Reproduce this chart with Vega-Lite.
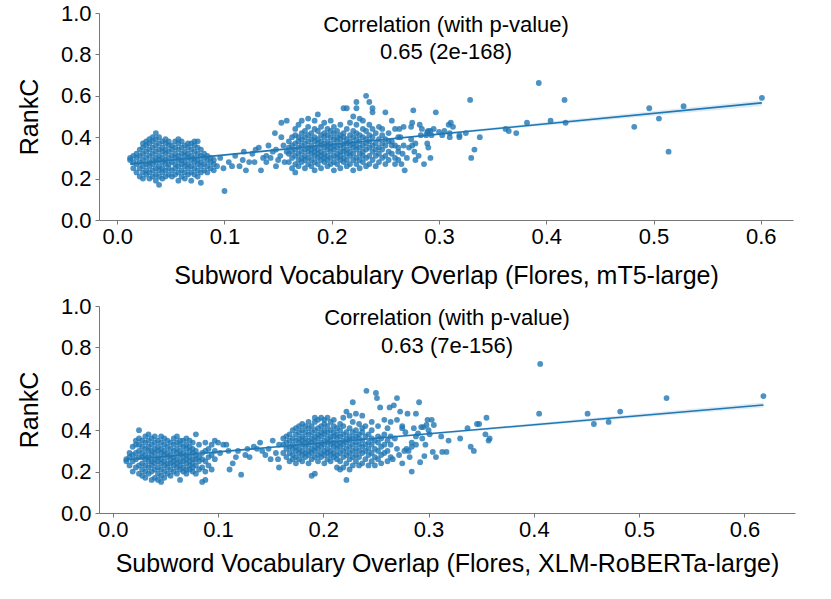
{
  "$schema": "https://vega.github.io/schema/vega-lite/v6.json",
  "background": "white",
  "padding": {"left": 17, "top": 2, "right": 5, "bottom": 5},
  "spacing": 7,
  "config": {
    "font": "Liberation Sans",
    "view": {"stroke": null},
    "axis": {
      "grid": false,
      "domainColor": "#777777",
      "tickColor": "#777777",
      "tickSize": 4,
      "labelFontSize": 22,
      "labelColor": "#000000",
      "titleFontSize": 25,
      "titleFontWeight": "normal",
      "titleColor": "#000000"
    },
    "axisX": {"labelPadding": 2},
    "axisY": {"labelPadding": 4}
  },
  "datasets": {
    "mt5": [
      {"x":0.012,"y":0.30},{"x":0.012,"y":0.29},
      {"x":0.015,"y":0.25},{"x":0.015,"y":0.28},{"x":0.015,"y":0.31},
      {"x":0.018,"y":0.23},{"x":0.018,"y":0.27},{"x":0.018,"y":0.30},{"x":0.018,"y":0.32},
      {"x":0.021,"y":0.21},{"x":0.021,"y":0.25},{"x":0.021,"y":0.28},{"x":0.021,"y":0.31},{"x":0.021,"y":0.34},
      {"x":0.024,"y":0.20},{"x":0.024,"y":0.23},{"x":0.024,"y":0.26},{"x":0.024,"y":0.29},{"x":0.024,"y":0.32},{"x":0.024,"y":0.35},{"x":0.024,"y":0.37},
      {"x":0.027,"y":0.22},{"x":0.027,"y":0.24},{"x":0.027,"y":0.27},{"x":0.027,"y":0.30},{"x":0.027,"y":0.33},{"x":0.027,"y":0.36},{"x":0.027,"y":0.38},
      {"x":0.030,"y":0.20},{"x":0.030,"y":0.23},{"x":0.030,"y":0.26},{"x":0.030,"y":0.28},{"x":0.030,"y":0.31},{"x":0.030,"y":0.34},{"x":0.030,"y":0.37},{"x":0.030,"y":0.39},
      {"x":0.033,"y":0.21},{"x":0.033,"y":0.24},{"x":0.033,"y":0.27},{"x":0.033,"y":0.29},{"x":0.033,"y":0.32},{"x":0.033,"y":0.35},{"x":0.033,"y":0.38},{"x":0.033,"y":0.40},
      {"x":0.036,"y":0.19},{"x":0.036,"y":0.22},{"x":0.036,"y":0.25},{"x":0.036,"y":0.28},{"x":0.036,"y":0.30},{"x":0.036,"y":0.33},{"x":0.036,"y":0.36},{"x":0.036,"y":0.39},{"x":0.036,"y":0.42},
      {"x":0.039,"y":0.17},{"x":0.039,"y":0.21},{"x":0.039,"y":0.24},{"x":0.039,"y":0.26},{"x":0.039,"y":0.29},{"x":0.039,"y":0.31},{"x":0.039,"y":0.34},{"x":0.039,"y":0.37},{"x":0.039,"y":0.40},
      {"x":0.042,"y":0.20},{"x":0.042,"y":0.23},{"x":0.042,"y":0.25},{"x":0.042,"y":0.28},{"x":0.042,"y":0.30},{"x":0.042,"y":0.33},{"x":0.042,"y":0.35},{"x":0.042,"y":0.38},
      {"x":0.045,"y":0.21},{"x":0.045,"y":0.24},{"x":0.045,"y":0.27},{"x":0.045,"y":0.29},{"x":0.045,"y":0.32},{"x":0.045,"y":0.34},{"x":0.045,"y":0.37},{"x":0.045,"y":0.39},
      {"x":0.048,"y":0.22},{"x":0.048,"y":0.25},{"x":0.048,"y":0.27},{"x":0.048,"y":0.30},{"x":0.048,"y":0.33},{"x":0.048,"y":0.36},{"x":0.048,"y":0.38},
      {"x":0.051,"y":0.21},{"x":0.051,"y":0.24},{"x":0.051,"y":0.28},{"x":0.051,"y":0.31},{"x":0.051,"y":0.34},{"x":0.051,"y":0.36},
      {"x":0.054,"y":0.22},{"x":0.054,"y":0.25},{"x":0.054,"y":0.27},{"x":0.054,"y":0.30},{"x":0.054,"y":0.32},{"x":0.054,"y":0.35},{"x":0.054,"y":0.38},
      {"x":0.057,"y":0.19},{"x":0.057,"y":0.23},{"x":0.057,"y":0.26},{"x":0.057,"y":0.29},{"x":0.057,"y":0.31},{"x":0.057,"y":0.34},{"x":0.057,"y":0.37},{"x":0.057,"y":0.39},
      {"x":0.060,"y":0.21},{"x":0.060,"y":0.24},{"x":0.060,"y":0.27},{"x":0.060,"y":0.29},{"x":0.060,"y":0.32},{"x":0.060,"y":0.35},{"x":0.060,"y":0.38},
      {"x":0.063,"y":0.20},{"x":0.063,"y":0.23},{"x":0.063,"y":0.26},{"x":0.063,"y":0.28},{"x":0.063,"y":0.31},{"x":0.063,"y":0.33},{"x":0.063,"y":0.36},
      {"x":0.066,"y":0.22},{"x":0.066,"y":0.25},{"x":0.066,"y":0.27},{"x":0.066,"y":0.30},{"x":0.066,"y":0.32},{"x":0.066,"y":0.35},{"x":0.066,"y":0.37},
      {"x":0.069,"y":0.19},{"x":0.069,"y":0.23},{"x":0.069,"y":0.26},{"x":0.069,"y":0.29},{"x":0.069,"y":0.31},{"x":0.069,"y":0.34},{"x":0.069,"y":0.37},
      {"x":0.072,"y":0.22},{"x":0.072,"y":0.25},{"x":0.072,"y":0.28},{"x":0.072,"y":0.30},{"x":0.072,"y":0.33},{"x":0.072,"y":0.36},{"x":0.072,"y":0.38},
      {"x":0.075,"y":0.21},{"x":0.075,"y":0.24},{"x":0.075,"y":0.27},{"x":0.075,"y":0.29},{"x":0.075,"y":0.32},{"x":0.075,"y":0.35},{"x":0.075,"y":0.38},
      {"x":0.078,"y":0.18},{"x":0.078,"y":0.23},{"x":0.078,"y":0.26},{"x":0.078,"y":0.28},{"x":0.078,"y":0.31},{"x":0.078,"y":0.34},
      {"x":0.081,"y":0.24},{"x":0.081,"y":0.27},{"x":0.081,"y":0.30},{"x":0.081,"y":0.32},
      {"x":0.084,"y":0.23},{"x":0.084,"y":0.26},{"x":0.084,"y":0.29},{"x":0.084,"y":0.31},
      {"x":0.087,"y":0.25},{"x":0.087,"y":0.28},{"x":0.087,"y":0.30},
      {"x":0.090,"y":0.24},{"x":0.090,"y":0.27},{"x":0.090,"y":0.29},
      {"x":0.093,"y":0.26},{"x":0.096,"y":0.30},{"x":0.099,"y":0.25},{"x":0.100,"y":0.14},{"x":0.104,"y":0.28},
      {"x":0.107,"y":0.26},{"x":0.110,"y":0.31},{"x":0.114,"y":0.26},{"x":0.117,"y":0.29},{"x":0.120,"y":0.24},
      {"x":0.123,"y":0.28},{"x":0.126,"y":0.32},{"x":0.128,"y":0.28},{"x":0.132,"y":0.35},{"x":0.134,"y":0.24},
      {"x":0.136,"y":0.30},{"x":0.139,"y":0.31},{"x":0.139,"y":0.28},{"x":0.143,"y":0.30},{"x":0.145,"y":0.33},
      {"x":0.148,"y":0.34},{"x":0.148,"y":0.26},{"x":0.150,"y":0.29},{"x":0.152,"y":0.31},{"x":0.153,"y":0.47},
      {"x":0.155,"y":0.36},{"x":0.156,"y":0.28},{"x":0.158,"y":0.48},{"x":0.158,"y":0.33},{"x":0.147,"y":0.42},
      {"x":0.153,"y":0.40},{"x":0.141,"y":0.36},{"x":0.129,"y":0.34},{"x":0.118,"y":0.33},
      {"x":0.160,"y":0.28},{"x":0.160,"y":0.32},{"x":0.160,"y":0.35},{"x":0.160,"y":0.38},
      {"x":0.163,"y":0.25},{"x":0.163,"y":0.30},{"x":0.163,"y":0.33},{"x":0.163,"y":0.36},{"x":0.163,"y":0.40},
      {"x":0.166,"y":0.23},{"x":0.166,"y":0.27},{"x":0.166,"y":0.31},{"x":0.166,"y":0.34},{"x":0.166,"y":0.37},{"x":0.166,"y":0.41},{"x":0.166,"y":0.44},
      {"x":0.169,"y":0.26},{"x":0.169,"y":0.29},{"x":0.169,"y":0.32},{"x":0.169,"y":0.35},{"x":0.169,"y":0.38},{"x":0.169,"y":0.40},{"x":0.169,"y":0.46},
      {"x":0.172,"y":0.28},{"x":0.172,"y":0.30},{"x":0.172,"y":0.33},{"x":0.172,"y":0.36},{"x":0.172,"y":0.39},{"x":0.172,"y":0.42},{"x":0.172,"y":0.48},
      {"x":0.175,"y":0.25},{"x":0.175,"y":0.29},{"x":0.175,"y":0.31},{"x":0.175,"y":0.34},{"x":0.175,"y":0.37},{"x":0.175,"y":0.40},{"x":0.175,"y":0.43},
      {"x":0.178,"y":0.27},{"x":0.178,"y":0.30},{"x":0.178,"y":0.33},{"x":0.178,"y":0.35},{"x":0.178,"y":0.38},{"x":0.178,"y":0.41},{"x":0.178,"y":0.45},{"x":0.178,"y":0.49},
      {"x":0.181,"y":0.26},{"x":0.181,"y":0.29},{"x":0.181,"y":0.32},{"x":0.181,"y":0.34},{"x":0.181,"y":0.36},{"x":0.181,"y":0.39},{"x":0.181,"y":0.42},
      {"x":0.184,"y":0.24},{"x":0.184,"y":0.28},{"x":0.184,"y":0.31},{"x":0.184,"y":0.33},{"x":0.184,"y":0.35},{"x":0.184,"y":0.38},{"x":0.184,"y":0.40},{"x":0.184,"y":0.44},{"x":0.184,"y":0.48},
      {"x":0.187,"y":0.27},{"x":0.187,"y":0.30},{"x":0.187,"y":0.32},{"x":0.187,"y":0.34},{"x":0.187,"y":0.37},{"x":0.187,"y":0.39},{"x":0.187,"y":0.43},{"x":0.187,"y":0.51},
      {"x":0.190,"y":0.25},{"x":0.190,"y":0.29},{"x":0.190,"y":0.31},{"x":0.190,"y":0.33},{"x":0.190,"y":0.36},{"x":0.190,"y":0.38},{"x":0.190,"y":0.41},{"x":0.190,"y":0.45},
      {"x":0.193,"y":0.28},{"x":0.193,"y":0.30},{"x":0.193,"y":0.32},{"x":0.193,"y":0.35},{"x":0.193,"y":0.37},{"x":0.193,"y":0.40},{"x":0.193,"y":0.42},{"x":0.193,"y":0.47},
      {"x":0.196,"y":0.26},{"x":0.196,"y":0.29},{"x":0.196,"y":0.31},{"x":0.196,"y":0.34},{"x":0.196,"y":0.36},{"x":0.196,"y":0.38},{"x":0.196,"y":0.41},{"x":0.196,"y":0.44},
      {"x":0.199,"y":0.27},{"x":0.199,"y":0.30},{"x":0.199,"y":0.33},{"x":0.199,"y":0.35},{"x":0.199,"y":0.37},{"x":0.199,"y":0.40},{"x":0.199,"y":0.43},{"x":0.199,"y":0.48},
      {"x":0.202,"y":0.24},{"x":0.202,"y":0.28},{"x":0.202,"y":0.31},{"x":0.202,"y":0.34},{"x":0.202,"y":0.36},{"x":0.202,"y":0.39},{"x":0.202,"y":0.42},{"x":0.202,"y":0.45},
      {"x":0.205,"y":0.27},{"x":0.205,"y":0.30},{"x":0.205,"y":0.32},{"x":0.205,"y":0.35},{"x":0.205,"y":0.38},{"x":0.205,"y":0.40},{"x":0.205,"y":0.43},
      {"x":0.208,"y":0.25},{"x":0.208,"y":0.29},{"x":0.208,"y":0.31},{"x":0.208,"y":0.33},{"x":0.208,"y":0.36},{"x":0.208,"y":0.39},{"x":0.208,"y":0.41},{"x":0.208,"y":0.46},
      {"x":0.211,"y":0.28},{"x":0.211,"y":0.30},{"x":0.211,"y":0.33},{"x":0.211,"y":0.35},{"x":0.211,"y":0.37},{"x":0.211,"y":0.40},{"x":0.211,"y":0.42},{"x":0.211,"y":0.54},
      {"x":0.214,"y":0.26},{"x":0.214,"y":0.29},{"x":0.214,"y":0.32},{"x":0.214,"y":0.34},{"x":0.214,"y":0.37},{"x":0.214,"y":0.39},{"x":0.214,"y":0.44},{"x":0.214,"y":0.54},
      {"x":0.217,"y":0.27},{"x":0.217,"y":0.31},{"x":0.217,"y":0.33},{"x":0.217,"y":0.36},{"x":0.217,"y":0.38},{"x":0.217,"y":0.41},{"x":0.217,"y":0.47},
      {"x":0.220,"y":0.24},{"x":0.220,"y":0.29},{"x":0.220,"y":0.32},{"x":0.220,"y":0.35},{"x":0.220,"y":0.37},{"x":0.220,"y":0.40},{"x":0.220,"y":0.43},{"x":0.220,"y":0.50},
      {"x":0.223,"y":0.27},{"x":0.223,"y":0.30},{"x":0.223,"y":0.34},{"x":0.223,"y":0.36},{"x":0.223,"y":0.39},{"x":0.223,"y":0.42},{"x":0.223,"y":0.46},{"x":0.223,"y":0.54},{"x":0.223,"y":0.57},
      {"x":0.226,"y":0.25},{"x":0.226,"y":0.29},{"x":0.226,"y":0.32},{"x":0.226,"y":0.35},{"x":0.226,"y":0.38},{"x":0.226,"y":0.41},{"x":0.226,"y":0.49},
      {"x":0.229,"y":0.28},{"x":0.229,"y":0.31},{"x":0.229,"y":0.33},{"x":0.229,"y":0.36},{"x":0.229,"y":0.40},{"x":0.229,"y":0.44},{"x":0.229,"y":0.48},
      {"x":0.232,"y":0.26},{"x":0.232,"y":0.30},{"x":0.232,"y":0.34},{"x":0.232,"y":0.37},{"x":0.232,"y":0.39},{"x":0.232,"y":0.43},{"x":0.232,"y":0.60},
      {"x":0.235,"y":0.27},{"x":0.235,"y":0.31},{"x":0.235,"y":0.35},{"x":0.235,"y":0.38},{"x":0.235,"y":0.41},{"x":0.235,"y":0.46},{"x":0.235,"y":0.57},
      {"x":0.238,"y":0.29},{"x":0.238,"y":0.33},{"x":0.238,"y":0.36},{"x":0.238,"y":0.40},{"x":0.238,"y":0.44},{"x":0.238,"y":0.52},{"x":0.238,"y":0.54},
      {"x":0.241,"y":0.26},{"x":0.241,"y":0.31},{"x":0.241,"y":0.34},{"x":0.241,"y":0.37},{"x":0.241,"y":0.42},
      {"x":0.244,"y":0.28},{"x":0.244,"y":0.32},{"x":0.244,"y":0.35},{"x":0.244,"y":0.39},{"x":0.244,"y":0.45},
      {"x":0.247,"y":0.30},{"x":0.247,"y":0.34},{"x":0.247,"y":0.37},{"x":0.247,"y":0.41},{"x":0.247,"y":0.44},
      {"x":0.250,"y":0.27},{"x":0.250,"y":0.31},{"x":0.250,"y":0.36},{"x":0.250,"y":0.39},{"x":0.250,"y":0.52},
      {"x":0.253,"y":0.29},{"x":0.253,"y":0.33},{"x":0.253,"y":0.38},{"x":0.253,"y":0.42},
      {"x":0.256,"y":0.32},{"x":0.256,"y":0.36},{"x":0.256,"y":0.38},{"x":0.256,"y":0.48},
      {"x":0.259,"y":0.27},{"x":0.259,"y":0.30},{"x":0.259,"y":0.36},{"x":0.259,"y":0.44},
      {"x":0.262,"y":0.33},{"x":0.262,"y":0.35},{"x":0.262,"y":0.40},{"x":0.262,"y":0.29},
      {"x":0.263,"y":0.44},{"x":0.264,"y":0.40},{"x":0.266,"y":0.32},{"x":0.267,"y":0.45},{"x":0.267,"y":0.36},
      {"x":0.268,"y":0.24},{"x":0.265,"y":0.27},{"x":0.270,"y":0.30},{"x":0.272,"y":0.35},{"x":0.274,"y":0.39},
      {"x":0.274,"y":0.45},{"x":0.275,"y":0.47},{"x":0.275,"y":0.36},{"x":0.276,"y":0.53},{"x":0.277,"y":0.33},
      {"x":0.278,"y":0.37},{"x":0.278,"y":0.29},{"x":0.281,"y":0.31},{"x":0.282,"y":0.46},{"x":0.283,"y":0.41},
      {"x":0.284,"y":0.44},{"x":0.286,"y":0.27},{"x":0.288,"y":0.41},{"x":0.289,"y":0.37},{"x":0.289,"y":0.425},
      {"x":0.290,"y":0.43},{"x":0.292,"y":0.43},{"x":0.293,"y":0.41},{"x":0.295,"y":0.44},{"x":0.290,"y":0.35},
      {"x":0.292,"y":0.30},{"x":0.297,"y":0.52},{"x":0.300,"y":0.425},{"x":0.303,"y":0.41},{"x":0.305,"y":0.43},
      {"x":0.309,"y":0.46},{"x":0.311,"y":0.47},{"x":0.313,"y":0.45},{"x":0.310,"y":0.40},{"x":0.310,"y":0.42},
      {"x":0.319,"y":0.41},{"x":0.319,"y":0.40},{"x":0.325,"y":0.42},{"x":0.329,"y":0.58},{"x":0.330,"y":0.30},
      {"x":0.333,"y":0.34},{"x":0.338,"y":0.40},{"x":0.362,"y":0.44},{"x":0.365,"y":0.43},{"x":0.372,"y":0.42},
      {"x":0.382,"y":0.47},{"x":0.393,"y":0.662},{"x":0.404,"y":0.48},{"x":0.417,"y":0.58},{"x":0.418,"y":0.47},
      {"x":0.482,"y":0.45},{"x":0.496,"y":0.54},{"x":0.505,"y":0.49},{"x":0.514,"y":0.33},{"x":0.528,"y":0.55},
      {"x":0.601,"y":0.59}
    ],
    "xlmr": [
      {"x":0.013,"y":0.25},{"x":0.013,"y":0.26},
      {"x":0.016,"y":0.23},{"x":0.016,"y":0.27},{"x":0.016,"y":0.29},
      {"x":0.019,"y":0.20},{"x":0.019,"y":0.25},{"x":0.019,"y":0.28},{"x":0.019,"y":0.32},
      {"x":0.022,"y":0.22},{"x":0.022,"y":0.26},{"x":0.022,"y":0.29},{"x":0.022,"y":0.33},{"x":0.022,"y":0.35},
      {"x":0.025,"y":0.19},{"x":0.025,"y":0.23},{"x":0.025,"y":0.27},{"x":0.025,"y":0.30},{"x":0.025,"y":0.33},{"x":0.025,"y":0.36},{"x":0.025,"y":0.40},
      {"x":0.028,"y":0.18},{"x":0.028,"y":0.21},{"x":0.028,"y":0.24},{"x":0.028,"y":0.27},{"x":0.028,"y":0.29},{"x":0.028,"y":0.32},{"x":0.028,"y":0.35},
      {"x":0.031,"y":0.17},{"x":0.031,"y":0.20},{"x":0.031,"y":0.23},{"x":0.031,"y":0.26},{"x":0.031,"y":0.28},{"x":0.031,"y":0.31},{"x":0.031,"y":0.34},{"x":0.031,"y":0.37},
      {"x":0.034,"y":0.19},{"x":0.034,"y":0.22},{"x":0.034,"y":0.25},{"x":0.034,"y":0.27},{"x":0.034,"y":0.30},{"x":0.034,"y":0.32},{"x":0.034,"y":0.35},{"x":0.034,"y":0.38},
      {"x":0.037,"y":0.16},{"x":0.037,"y":0.20},{"x":0.037,"y":0.23},{"x":0.037,"y":0.25},{"x":0.037,"y":0.28},{"x":0.037,"y":0.30},{"x":0.037,"y":0.33},{"x":0.037,"y":0.36},
      {"x":0.040,"y":0.17},{"x":0.040,"y":0.21},{"x":0.040,"y":0.24},{"x":0.040,"y":0.26},{"x":0.040,"y":0.29},{"x":0.040,"y":0.31},{"x":0.040,"y":0.34},{"x":0.040,"y":0.37},
      {"x":0.043,"y":0.16},{"x":0.043,"y":0.19},{"x":0.043,"y":0.22},{"x":0.043,"y":0.25},{"x":0.043,"y":0.27},{"x":0.043,"y":0.30},{"x":0.043,"y":0.32},{"x":0.043,"y":0.35},
      {"x":0.046,"y":0.15},{"x":0.046,"y":0.18},{"x":0.046,"y":0.21},{"x":0.046,"y":0.24},{"x":0.046,"y":0.26},{"x":0.046,"y":0.29},{"x":0.046,"y":0.31},{"x":0.046,"y":0.34},{"x":0.046,"y":0.37},
      {"x":0.049,"y":0.17},{"x":0.049,"y":0.20},{"x":0.049,"y":0.23},{"x":0.049,"y":0.25},{"x":0.049,"y":0.28},{"x":0.049,"y":0.30},{"x":0.049,"y":0.33},{"x":0.049,"y":0.36},
      {"x":0.052,"y":0.19},{"x":0.052,"y":0.22},{"x":0.052,"y":0.24},{"x":0.052,"y":0.27},{"x":0.052,"y":0.29},{"x":0.052,"y":0.32},{"x":0.052,"y":0.35},
      {"x":0.055,"y":0.18},{"x":0.055,"y":0.21},{"x":0.055,"y":0.24},{"x":0.055,"y":0.26},{"x":0.055,"y":0.28},{"x":0.055,"y":0.31},{"x":0.055,"y":0.34},
      {"x":0.058,"y":0.20},{"x":0.058,"y":0.23},{"x":0.058,"y":0.25},{"x":0.058,"y":0.27},{"x":0.058,"y":0.30},{"x":0.058,"y":0.33},{"x":0.058,"y":0.36},
      {"x":0.061,"y":0.19},{"x":0.061,"y":0.22},{"x":0.061,"y":0.24},{"x":0.061,"y":0.26},{"x":0.061,"y":0.29},{"x":0.061,"y":0.31},{"x":0.061,"y":0.34},{"x":0.061,"y":0.37},
      {"x":0.064,"y":0.16},{"x":0.064,"y":0.21},{"x":0.064,"y":0.23},{"x":0.064,"y":0.25},{"x":0.064,"y":0.28},{"x":0.064,"y":0.30},{"x":0.064,"y":0.33},{"x":0.064,"y":0.35},
      {"x":0.067,"y":0.20},{"x":0.067,"y":0.22},{"x":0.067,"y":0.25},{"x":0.067,"y":0.27},{"x":0.067,"y":0.29},{"x":0.067,"y":0.32},{"x":0.067,"y":0.35},
      {"x":0.070,"y":0.19},{"x":0.070,"y":0.21},{"x":0.070,"y":0.24},{"x":0.070,"y":0.26},{"x":0.070,"y":0.28},{"x":0.070,"y":0.31},{"x":0.070,"y":0.33},{"x":0.070,"y":0.36},
      {"x":0.073,"y":0.21},{"x":0.073,"y":0.23},{"x":0.073,"y":0.25},{"x":0.073,"y":0.27},{"x":0.073,"y":0.30},{"x":0.073,"y":0.32},{"x":0.073,"y":0.35},
      {"x":0.076,"y":0.20},{"x":0.076,"y":0.22},{"x":0.076,"y":0.24},{"x":0.076,"y":0.26},{"x":0.076,"y":0.29},{"x":0.076,"y":0.31},{"x":0.076,"y":0.34},
      {"x":0.079,"y":0.19},{"x":0.079,"y":0.23},{"x":0.079,"y":0.26},{"x":0.079,"y":0.28},{"x":0.079,"y":0.30},{"x":0.079,"y":0.38},
      {"x":0.082,"y":0.21},{"x":0.082,"y":0.25},{"x":0.082,"y":0.27},{"x":0.082,"y":0.33},
      {"x":0.085,"y":0.15},{"x":0.085,"y":0.22},{"x":0.085,"y":0.26},{"x":0.085,"y":0.29},
      {"x":0.088,"y":0.16},{"x":0.088,"y":0.20},{"x":0.088,"y":0.25},{"x":0.088,"y":0.30},{"x":0.088,"y":0.34},
      {"x":0.091,"y":0.23},{"x":0.091,"y":0.27},{"x":0.091,"y":0.31},
      {"x":0.094,"y":0.21},{"x":0.094,"y":0.28},{"x":0.094,"y":0.33},
      {"x":0.097,"y":0.26},{"x":0.097,"y":0.30},{"x":0.097,"y":0.35},
      {"x":0.100,"y":0.34},{"x":0.102,"y":0.29},{"x":0.105,"y":0.33},{"x":0.108,"y":0.33},{"x":0.111,"y":0.21},
      {"x":0.114,"y":0.24},{"x":0.110,"y":0.30},{"x":0.117,"y":0.27},{"x":0.122,"y":0.185},{"x":0.126,"y":0.28},
      {"x":0.130,"y":0.27},{"x":0.134,"y":0.32},{"x":0.140,"y":0.34},{"x":0.142,"y":0.30},{"x":0.145,"y":0.28},
      {"x":0.148,"y":0.31},{"x":0.150,"y":0.26},{"x":0.152,"y":0.35},{"x":0.155,"y":0.29},{"x":0.158,"y":0.33},
      {"x":0.158,"y":0.22},{"x":0.157,"y":0.26},{"x":0.137,"y":0.31},{"x":0.119,"y":0.30},{"x":0.128,"y":0.31},
      {"x":0.162,"y":0.29},{"x":0.162,"y":0.33},{"x":0.162,"y":0.36},
      {"x":0.165,"y":0.27},{"x":0.165,"y":0.31},{"x":0.165,"y":0.34},{"x":0.165,"y":0.37},
      {"x":0.168,"y":0.25},{"x":0.168,"y":0.29},{"x":0.168,"y":0.32},{"x":0.168,"y":0.35},{"x":0.168,"y":0.38},
      {"x":0.171,"y":0.26},{"x":0.171,"y":0.28},{"x":0.171,"y":0.31},{"x":0.171,"y":0.33},{"x":0.171,"y":0.36},{"x":0.171,"y":0.40},
      {"x":0.174,"y":0.24},{"x":0.174,"y":0.27},{"x":0.174,"y":0.30},{"x":0.174,"y":0.32},{"x":0.174,"y":0.35},{"x":0.174,"y":0.38},{"x":0.174,"y":0.41},
      {"x":0.177,"y":0.26},{"x":0.177,"y":0.29},{"x":0.177,"y":0.31},{"x":0.177,"y":0.34},{"x":0.177,"y":0.36},{"x":0.177,"y":0.39},{"x":0.177,"y":0.42},
      {"x":0.180,"y":0.25},{"x":0.180,"y":0.28},{"x":0.180,"y":0.30},{"x":0.180,"y":0.33},{"x":0.180,"y":0.35},{"x":0.180,"y":0.37},{"x":0.180,"y":0.40},{"x":0.180,"y":0.43},
      {"x":0.183,"y":0.27},{"x":0.183,"y":0.29},{"x":0.183,"y":0.32},{"x":0.183,"y":0.34},{"x":0.183,"y":0.36},{"x":0.183,"y":0.39},{"x":0.183,"y":0.42},
      {"x":0.186,"y":0.24},{"x":0.186,"y":0.28},{"x":0.186,"y":0.30},{"x":0.186,"y":0.33},{"x":0.186,"y":0.35},{"x":0.186,"y":0.38},{"x":0.186,"y":0.41},{"x":0.186,"y":0.44},
      {"x":0.189,"y":0.18},{"x":0.189,"y":0.26},{"x":0.189,"y":0.29},{"x":0.189,"y":0.31},{"x":0.189,"y":0.34},{"x":0.189,"y":0.36},{"x":0.189,"y":0.39},{"x":0.189,"y":0.42},
      {"x":0.192,"y":0.19},{"x":0.192,"y":0.27},{"x":0.192,"y":0.30},{"x":0.192,"y":0.32},{"x":0.192,"y":0.35},{"x":0.192,"y":0.37},{"x":0.192,"y":0.40},{"x":0.192,"y":0.44},{"x":0.192,"y":0.46},
      {"x":0.195,"y":0.25},{"x":0.195,"y":0.28},{"x":0.195,"y":0.31},{"x":0.195,"y":0.33},{"x":0.195,"y":0.36},{"x":0.195,"y":0.38},{"x":0.195,"y":0.41},{"x":0.195,"y":0.45},
      {"x":0.198,"y":0.27},{"x":0.198,"y":0.29},{"x":0.198,"y":0.32},{"x":0.198,"y":0.34},{"x":0.198,"y":0.37},{"x":0.198,"y":0.39},{"x":0.198,"y":0.42},{"x":0.198,"y":0.46},
      {"x":0.201,"y":0.24},{"x":0.201,"y":0.28},{"x":0.201,"y":0.30},{"x":0.201,"y":0.33},{"x":0.201,"y":0.35},{"x":0.201,"y":0.38},{"x":0.201,"y":0.40},{"x":0.201,"y":0.43},{"x":0.201,"y":0.45},
      {"x":0.204,"y":0.26},{"x":0.204,"y":0.29},{"x":0.204,"y":0.31},{"x":0.204,"y":0.34},{"x":0.204,"y":0.36},{"x":0.204,"y":0.39},{"x":0.204,"y":0.42},{"x":0.204,"y":0.46},
      {"x":0.207,"y":0.25},{"x":0.207,"y":0.28},{"x":0.207,"y":0.30},{"x":0.207,"y":0.33},{"x":0.207,"y":0.35},{"x":0.207,"y":0.37},{"x":0.207,"y":0.40},{"x":0.207,"y":0.44},
      {"x":0.210,"y":0.27},{"x":0.210,"y":0.29},{"x":0.210,"y":0.32},{"x":0.210,"y":0.34},{"x":0.210,"y":0.37},{"x":0.210,"y":0.39},{"x":0.210,"y":0.42},{"x":0.210,"y":0.45},
      {"x":0.213,"y":0.22},{"x":0.213,"y":0.26},{"x":0.213,"y":0.28},{"x":0.213,"y":0.31},{"x":0.213,"y":0.33},{"x":0.213,"y":0.36},{"x":0.213,"y":0.38},{"x":0.213,"y":0.41},
      {"x":0.216,"y":0.21},{"x":0.216,"y":0.25},{"x":0.216,"y":0.29},{"x":0.216,"y":0.32},{"x":0.216,"y":0.34},{"x":0.216,"y":0.37},{"x":0.216,"y":0.40},{"x":0.216,"y":0.43},
      {"x":0.219,"y":0.22},{"x":0.219,"y":0.27},{"x":0.219,"y":0.30},{"x":0.219,"y":0.33},{"x":0.219,"y":0.35},{"x":0.219,"y":0.38},{"x":0.219,"y":0.42},{"x":0.219,"y":0.46},
      {"x":0.222,"y":0.16},{"x":0.222,"y":0.24},{"x":0.222,"y":0.28},{"x":0.222,"y":0.31},{"x":0.222,"y":0.34},{"x":0.222,"y":0.36},{"x":0.222,"y":0.39},{"x":0.222,"y":0.49},
      {"x":0.225,"y":0.21},{"x":0.225,"y":0.26},{"x":0.225,"y":0.29},{"x":0.225,"y":0.32},{"x":0.225,"y":0.35},{"x":0.225,"y":0.37},{"x":0.225,"y":0.41},{"x":0.225,"y":0.47},
      {"x":0.228,"y":0.23},{"x":0.228,"y":0.27},{"x":0.228,"y":0.30},{"x":0.228,"y":0.33},{"x":0.228,"y":0.36},{"x":0.228,"y":0.39},{"x":0.228,"y":0.44},{"x":0.228,"y":0.535},
      {"x":0.231,"y":0.25},{"x":0.231,"y":0.28},{"x":0.231,"y":0.31},{"x":0.231,"y":0.34},{"x":0.231,"y":0.37},{"x":0.231,"y":0.40},{"x":0.231,"y":0.48},
      {"x":0.234,"y":0.23},{"x":0.234,"y":0.27},{"x":0.234,"y":0.30},{"x":0.234,"y":0.33},{"x":0.234,"y":0.36},{"x":0.234,"y":0.38},{"x":0.234,"y":0.43},
      {"x":0.237,"y":0.24},{"x":0.237,"y":0.29},{"x":0.237,"y":0.32},{"x":0.237,"y":0.35},{"x":0.237,"y":0.39},{"x":0.237,"y":0.41},{"x":0.237,"y":0.47},
      {"x":0.240,"y":0.26},{"x":0.240,"y":0.30},{"x":0.240,"y":0.33},{"x":0.240,"y":0.37},{"x":0.240,"y":0.42},{"x":0.241,"y":0.59},
      {"x":0.243,"y":0.23},{"x":0.243,"y":0.28},{"x":0.243,"y":0.31},{"x":0.243,"y":0.34},{"x":0.243,"y":0.38},
      {"x":0.246,"y":0.25},{"x":0.246,"y":0.29},{"x":0.246,"y":0.33},{"x":0.246,"y":0.36},{"x":0.246,"y":0.40},{"x":0.246,"y":0.44},
      {"x":0.249,"y":0.23},{"x":0.249,"y":0.27},{"x":0.249,"y":0.31},{"x":0.249,"y":0.35},{"x":0.250,"y":0.58},{"x":0.251,"y":0.555},
      {"x":0.252,"y":0.26},{"x":0.252,"y":0.30},{"x":0.252,"y":0.34},{"x":0.252,"y":0.37},{"x":0.252,"y":0.42},
      {"x":0.255,"y":0.24},{"x":0.255,"y":0.28},{"x":0.255,"y":0.32},{"x":0.255,"y":0.36},{"x":0.254,"y":0.51},
      {"x":0.258,"y":0.29},{"x":0.258,"y":0.33},{"x":0.258,"y":0.38},{"x":0.258,"y":0.45},
      {"x":0.261,"y":0.25},{"x":0.261,"y":0.30},{"x":0.261,"y":0.35},{"x":0.261,"y":0.41},
      {"x":0.264,"y":0.27},{"x":0.264,"y":0.33},{"x":0.264,"y":0.37},{"x":0.264,"y":0.44},{"x":0.263,"y":0.51},
      {"x":0.267,"y":0.52},{"x":0.270,"y":0.555},{"x":0.273,"y":0.49},{"x":0.275,"y":0.42},{"x":0.275,"y":0.41},
      {"x":0.275,"y":0.24},{"x":0.280,"y":0.48},{"x":0.288,"y":0.48},{"x":0.291,"y":0.535},{"x":0.293,"y":0.415},
      {"x":0.295,"y":0.415},{"x":0.298,"y":0.425},{"x":0.299,"y":0.45},{"x":0.303,"y":0.45},{"x":0.305,"y":0.425},
      {"x":0.300,"y":0.40},{"x":0.301,"y":0.38},{"x":0.296,"y":0.275},{"x":0.292,"y":0.245},{"x":0.284,"y":0.20},
      {"x":0.282,"y":0.27},{"x":0.288,"y":0.37},{"x":0.288,"y":0.33},{"x":0.284,"y":0.34},{"x":0.284,"y":0.32},
      {"x":0.281,"y":0.30},{"x":0.279,"y":0.31},{"x":0.277,"y":0.30},{"x":0.304,"y":0.295},{"x":0.307,"y":0.27},
      {"x":0.313,"y":0.295},{"x":0.317,"y":0.295},{"x":0.312,"y":0.37},{"x":0.319,"y":0.35},{"x":0.330,"y":0.36},
      {"x":0.337,"y":0.41},{"x":0.340,"y":0.32},{"x":0.343,"y":0.30},{"x":0.346,"y":0.43},{"x":0.348,"y":0.43},
      {"x":0.354,"y":0.38},{"x":0.358,"y":0.36},{"x":0.357,"y":0.35},{"x":0.355,"y":0.46},{"x":0.268,"y":0.36},
      {"x":0.270,"y":0.31},{"x":0.272,"y":0.28},{"x":0.266,"y":0.26},{"x":0.278,"y":0.39},{"x":0.286,"y":0.41},
      {"x":0.290,"y":0.385},{"x":0.294,"y":0.36},{"x":0.297,"y":0.33},{"x":0.270,"y":0.45},
      {"x":0.405,"y":0.48},{"x":0.406,"y":0.72},{"x":0.451,"y":0.48},{"x":0.457,"y":0.43},{"x":0.471,"y":0.44},
      {"x":0.482,"y":0.49},{"x":0.526,"y":0.555},{"x":0.618,"y":0.565}
    ]
  },
  "vconcat": [
    {
      "width": 694,
      "height": 207,
      "layer": [
        {
          "data": {"name": "mt5"},
          "mark": {"type": "circle", "size": 34, "opacity": 0.8, "color": "#1f77b4"},
          "encoding": {
            "x": {
              "field": "x", "type": "quantitative",
              "scale": {"domain": [-0.017, 0.63], "nice": false, "zero": false},
              "axis": {"values": [0, 0.1, 0.2, 0.3, 0.4, 0.5, 0.6], "format": ".1f", "title": "Subword Vocabulary Overlap (Flores, mT5-large)", "titlePadding": 16}
            },
            "y": {
              "field": "y", "type": "quantitative",
              "scale": {"domain": [0, 1], "nice": false},
              "axis": {"values": [0, 0.2, 0.4, 0.6, 0.8, 1.0], "format": ".1f", "title": "RankC", "titlePadding": 18}
            }
          }
        },
        {
          "data": {"values": [
            {"x":0.012,"lo":0.264,"hi":0.276},{"x":0.1,"lo":0.310,"hi":0.318},{"x":0.2,"lo":0.360,"hi":0.368},
            {"x":0.3,"lo":0.410,"hi":0.420},{"x":0.4,"lo":0.457,"hi":0.473},{"x":0.5,"lo":0.504,"hi":0.526},{"x":0.601,"lo":0.551,"hi":0.579}
          ]},
          "mark": {"type": "area", "color": "#1f77b4", "opacity": 0.15},
          "encoding": {
            "x": {"field": "x", "type": "quantitative"},
            "y": {"field": "lo", "type": "quantitative"},
            "y2": {"field": "hi"}
          }
        },
        {
          "data": {"values": [{"x":0.012,"y":0.270},{"x":0.601,"y":0.566}]},
          "mark": {"type": "line", "color": "#1f77b4", "strokeWidth": 1.6},
          "encoding": {
            "x": {"field": "x", "type": "quantitative"},
            "y": {"field": "y", "type": "quantitative"}
          }
        },
        {
          "data": {"values": [
            {"x":0.3065,"y":0.942,"t":"Correlation (with p-value)"},
            {"x":0.3065,"y":0.812,"t":"0.65 (2e-168)"}
          ]},
          "mark": {"type": "text", "fontSize": 22, "color": "#000000", "align": "center", "baseline": "middle"},
          "encoding": {
            "x": {"field": "x", "type": "quantitative"},
            "y": {"field": "y", "type": "quantitative"},
            "text": {"field": "t"}
          }
        }
      ]
    },
    {
      "width": 696,
      "height": 207,
      "layer": [
        {
          "data": {"name": "xlmr"},
          "mark": {"type": "circle", "size": 34, "opacity": 0.8, "color": "#1f77b4"},
          "encoding": {
            "x": {
              "field": "x", "type": "quantitative",
              "scale": {"domain": [-0.013, 0.648], "nice": false, "zero": false},
              "axis": {"values": [0, 0.1, 0.2, 0.3, 0.4, 0.5, 0.6], "format": ".1f", "title": "Subword Vocabulary Overlap (Flores, XLM-RoBERTa-large)", "titlePadding": 11}
            },
            "y": {
              "field": "y", "type": "quantitative",
              "scale": {"domain": [0, 1], "nice": false},
              "axis": {"values": [0, 0.2, 0.4, 0.6, 0.8, 1.0], "format": ".1f", "title": "RankC", "titlePadding": 18}
            }
          }
        },
        {
          "data": {"values": [
            {"x":0.013,"lo":0.252,"hi":0.264},{"x":0.1,"lo":0.291,"hi":0.299},{"x":0.2,"lo":0.335,"hi":0.343},
            {"x":0.3,"lo":0.377,"hi":0.387},{"x":0.4,"lo":0.419,"hi":0.433},{"x":0.5,"lo":0.461,"hi":0.479},{"x":0.618,"lo":0.510,"hi":0.534}
          ]},
          "mark": {"type": "area", "color": "#1f77b4", "opacity": 0.15},
          "encoding": {
            "x": {"field": "x", "type": "quantitative"},
            "y": {"field": "lo", "type": "quantitative"},
            "y2": {"field": "hi"}
          }
        },
        {
          "data": {"values": [{"x":0.013,"y":0.257},{"x":0.618,"y":0.522}]},
          "mark": {"type": "line", "color": "#1f77b4", "strokeWidth": 1.6},
          "encoding": {
            "x": {"field": "x", "type": "quantitative"},
            "y": {"field": "y", "type": "quantitative"}
          }
        },
        {
          "data": {"values": [
            {"x":0.3175,"y":0.942,"t":"Correlation (with p-value)"},
            {"x":0.3175,"y":0.808,"t":"0.63 (7e-156)"}
          ]},
          "mark": {"type": "text", "fontSize": 22, "color": "#000000", "align": "center", "baseline": "middle"},
          "encoding": {
            "x": {"field": "x", "type": "quantitative"},
            "y": {"field": "y", "type": "quantitative"},
            "text": {"field": "t"}
          }
        }
      ]
    }
  ]
}
